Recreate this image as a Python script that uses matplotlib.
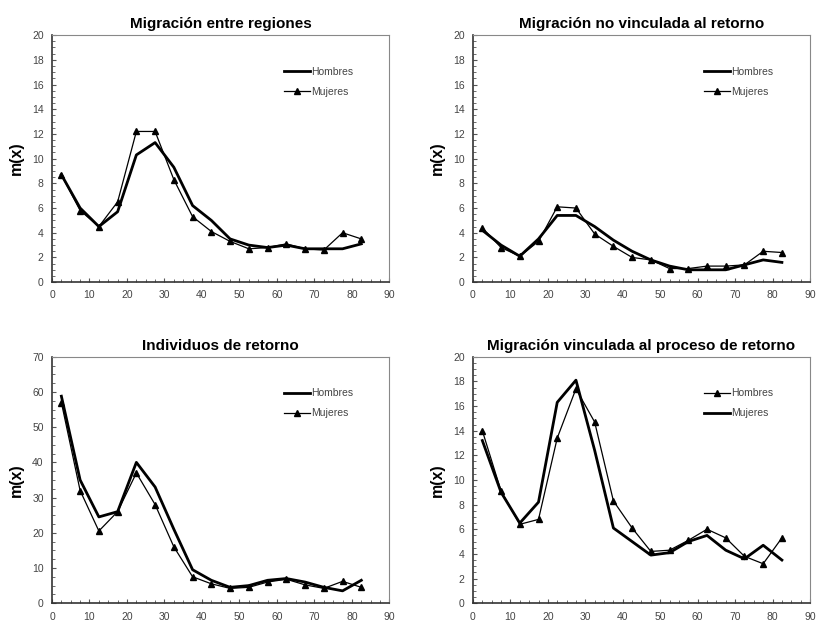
import matplotlib.pyplot as plt
from matplotlib.ticker import MultipleLocator

plt.rcParams['font.family'] = ['Liberation Sans', 'DejaVu Sans']

# Edad (punto medio del grupo quinquenal)
edad = [2.5, 7.5, 12.5, 17.5, 22.5, 27.5, 32.5, 37.5, 42.5, 47.5,
        52.5, 57.5, 62.5, 67.5, 72.5, 77.5, 82.5]

# Migración entre regiones
reg_hombres = [8.7, 6.0, 4.5, 5.7, 10.3, 11.3, 9.3, 6.2, 5.0, 3.5,
               3.0, 2.8, 3.0, 2.7, 2.7, 2.7, 3.1]
reg_mujeres = [8.7, 5.8, 4.5, 6.5, 12.2, 12.2, 8.3, 5.3, 4.1, 3.3,
               2.7, 2.8, 3.1, 2.7, 2.6, 4.0, 3.5]

# Migración no vinculada al retorno
nov_hombres = [4.2, 3.0, 2.1, 3.5, 5.4, 5.4, 4.5, 3.4, 2.5, 1.8,
               1.3, 1.0, 1.0, 1.0, 1.4, 1.8, 1.6]
nov_mujeres = [4.4, 2.8, 2.1, 3.3, 6.1, 6.0, 3.9, 2.9, 2.0, 1.8,
               1.1, 1.1, 1.3, 1.3, 1.4, 2.5, 2.4]

# Individuos de retorno
ret_hombres = [58.8, 35.0, 24.5, 26.0, 40.0, 33.0, 21.0, 9.5, 6.5, 4.5,
               5.0, 6.5, 7.0, 6.0, 4.5, 3.5, 6.5]
ret_mujeres = [57.0, 32.0, 20.5, 26.0, 37.0, 28.0, 16.0, 7.5, 5.5, 4.2,
               4.5, 6.0, 6.8, 5.2, 4.2, 6.2, 4.5]

# Migración vinculada al proceso de retorno
vin_hombres = [14.0, 9.1, 6.4, 6.8, 13.4, 17.4, 14.7, 8.3, 6.1, 4.2,
               4.3, 5.1, 6.0, 5.3, 3.8, 3.2, 5.3]
vin_mujeres = [13.2, 9.0, 6.5, 8.2, 16.3, 18.1, 12.4, 6.1, 5.0, 3.9,
               4.1, 5.0, 5.5, 4.3, 3.6, 4.7, 3.5]

fig = plt.figure(figsize=(8.19, 6.27), dpi=100)

paneles = [
    ('Migración entre regiones', [0.0635, 0.550, 0.412, 0.394], 20, 2,
     reg_hombres, reg_mujeres, False),
    ('Migración no vinculada al retorno', [0.5775, 0.550, 0.4115, 0.394], 20, 2,
     nov_hombres, nov_mujeres, False),
    ('Individuos de retorno', [0.0635, 0.038, 0.412, 0.393], 70, 10,
     ret_hombres, ret_mujeres, False),
    ('Migración vinculada al proceso de retorno', [0.5775, 0.038, 0.4115, 0.393], 20, 2,
     vin_hombres, vin_mujeres, True),
]

for titulo, pos, ymax, paso, hombres, mujeres, invertido in paneles:
    ax = fig.add_axes(pos)
    gruesa = dict(color='black', lw=2.0)
    fina = dict(color='black', lw=0.9, marker='^', ms=5)
    if invertido:
        # aquí los hombres van con triángulos y las mujeres con línea gruesa
        ax.plot(edad, hombres, label='Hombres', **fina)
        ax.plot(edad, mujeres, label='Mujeres', **gruesa)
    else:
        ax.plot(edad, hombres, label='Hombres', **gruesa)
        ax.plot(edad, mujeres, label='Mujeres', **fina)

    ax.set_xlim(0, 90)
    ax.set_ylim(0, ymax)
    ax.xaxis.set_major_locator(MultipleLocator(10))
    ax.yaxis.set_major_locator(MultipleLocator(paso))
    ax.yaxis.set_minor_locator(MultipleLocator(paso / 4))
    ax.xaxis.set_minor_locator(MultipleLocator(2.5))
    ax.tick_params(which='both', direction='in', labelsize=7.5,
                   labelcolor='#444444', color='#555555')
    ax.tick_params(which='major', length=3, pad=6)
    ax.tick_params(which='minor', length=2)
    for lado in ['top', 'right']:
        ax.spines[lado].set_color('#888888')
        ax.spines[lado].set_linewidth(0.8)
    for lado in ['left', 'bottom']:
        ax.spines[lado].set_color('#333333')
        ax.spines[lado].set_linewidth(1.2)

    ax.set_title(titulo, fontsize=11, fontweight='bold', pad=5)
    ax.set_ylabel('m(x)', fontsize=11.5, fontweight='bold', labelpad=6)
    ax.legend(loc='upper right', bbox_to_anchor=(0.92, 0.91), frameon=False,
              fontsize=7.5, handlelength=2.5, handletextpad=0.1,
              labelspacing=0.95, labelcolor='#444444')

fig.savefig('out.png', dpi=100)
